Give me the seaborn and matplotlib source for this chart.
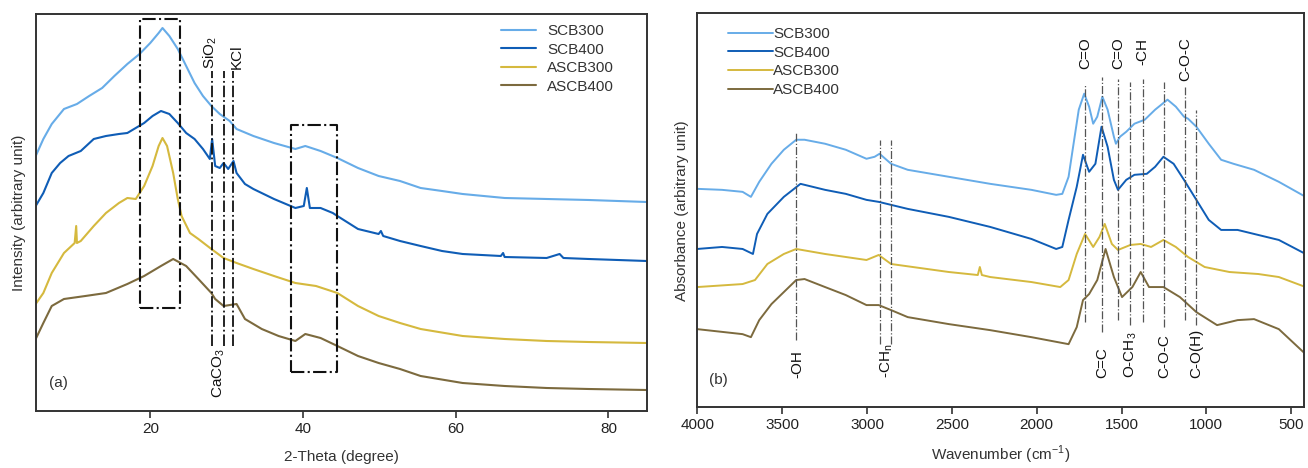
import matplotlib
matplotlib.use('Agg')
import matplotlib.pyplot as plt
import seaborn as sns
import pandas as pd

# ---- XRD data (a), intensity in arbitrary unit ----
scb300_theta = [5.0, 6.0, 7.1, 8.7, 10.4, 12.0, 13.7, 15.3, 17.0, 18.6, 20.0, 21.1, 21.6, 22.5, 23.6, 24.7,
                25.8, 26.9, 28.0, 29.1, 30.4, 31.3, 33.5, 36.2, 39.0, 40.3, 42.3, 44.5, 47.2, 49.9, 52.7,
                55.4, 58.2, 60.9, 66.4, 71.9, 77.4, 85.0]
scb300_int = [255, 272, 287, 302, 307, 315, 323, 335, 347, 357, 368, 378, 383, 375, 362, 345,
              328, 315, 305, 297, 290, 282, 275, 268, 262, 265, 260, 253, 243, 235, 230,
              223, 220, 217, 213, 212, 211, 209]

scb400_theta = [5.0, 6.0, 7.1, 8.2, 9.3, 10.9, 12.6, 14.2, 15.9, 17.0, 18.1, 19.2, 20.3, 21.4, 22.5, 23.6,
                24.7, 25.8, 26.9, 27.8, 28.1, 28.5, 29.1, 29.6, 30.2, 30.9, 31.3, 32.4, 33.5, 36.2, 39.0,
                40.1, 40.5, 40.9, 42.3, 43.9, 44.5, 47.2, 49.9, 50.2, 50.5, 52.7, 55.4, 58.2, 60.9, 65.9,
                66.2, 66.4, 71.9, 73.6, 74.1, 77.4, 85.0]
scb400_int = [205, 218, 238, 248, 255, 260, 272, 275, 277, 278, 283, 288, 295, 300, 297, 288,
              278, 272, 262, 252, 272, 245, 243, 248, 242, 250, 238, 227, 222, 212, 203,
              205, 223, 203, 203, 198, 195, 182, 177, 180, 175, 170, 165, 160, 157, 155,
              158, 154, 153, 157, 153, 152, 150]

ascb300_theta = [5.0, 6.0, 7.1, 8.7, 10.1, 10.3, 10.4, 10.9, 12.6, 14.2, 15.9, 17.0, 18.1, 19.2, 20.3, 21.1,
                 21.6, 22.2, 23.0, 23.6, 24.1, 25.2, 26.3, 28.0, 29.6, 31.3, 33.5, 36.2, 39.0, 41.7,
                 44.5, 47.2, 49.9, 52.7, 55.4, 60.9, 66.4, 71.9, 77.4, 85.0]
ascb300_int = [107, 118, 138, 158, 168, 185, 168, 170, 185, 198, 208, 213, 212, 225, 245, 265,
               273, 265, 238, 212, 195, 178, 172, 162, 153, 148, 142, 135, 128, 125,
               118, 105, 95, 88, 82, 75, 72, 70, 69, 68]

ascb400_theta = [5.0, 6.0, 7.1, 8.7, 11.5, 14.2, 17.0, 19.2, 21.4, 23.0, 24.7, 26.3, 28.0, 28.5, 29.6, 31.3,
                 32.4, 34.6, 36.8, 39.0, 40.3, 42.3, 44.5, 47.2, 49.9, 52.7, 55.4, 60.9, 66.4, 71.9,
                 77.4, 85.0]
ascb400_int = [72, 88, 105, 112, 115, 118, 127, 135, 145, 152, 145, 132, 118, 112, 105, 107,
               92, 82, 75, 70, 77, 73, 65, 55, 48, 42, 35, 28, 25, 23,
               22, 21]

# ---- FTIR data (b), absorbance in arbitrary unit ----
scb300_wn = [4000, 3854, 3733, 3684, 3635, 3563, 3490, 3417, 3368, 3247, 3125, 3003, 2955, 2926, 2858, 2760,
             2517, 2274, 2031, 1885, 1849, 1812, 1788, 1752, 1720, 1691, 1667, 1643, 1613, 1582, 1545,
             1533, 1509, 1472, 1424, 1363, 1302, 1229, 1180, 1132, 1108, 1059, 986, 913, 840, 719, 573, 415]
scb300_abs = [218, 217, 215, 210, 225, 243, 257, 267, 267, 263, 257, 248, 250, 253, 243, 237,
              230, 223, 217, 212, 213, 230, 257, 297, 313, 300, 283, 290, 310, 297, 270,
              263, 270, 275, 283, 287, 297, 307, 300, 290, 288, 280, 263, 247, 243, 237, 225, 210]

scb400_wn = [4000, 3854, 3733, 3672, 3648, 3587, 3490, 3392, 3247, 3125, 3003, 2931, 2760, 2517, 2274, 2031,
             1885, 1849, 1812, 1764, 1727, 1691, 1654, 1618, 1582, 1545, 1521, 1472, 1424, 1351, 1302,
             1253, 1193, 1132, 1059, 986, 913, 816, 719, 573, 415]
scb400_abs = [158, 160, 158, 153, 173, 193, 210, 223, 217, 213, 207, 205, 198, 190, 180, 168,
              158, 160, 187, 220, 252, 235, 243, 280, 260, 227, 217, 227, 232, 233, 240,
              250, 243, 227, 207, 187, 177, 177, 173, 167, 153]

ascb300_wn = [4000, 3733, 3660, 3587, 3490, 3417, 3247, 3003, 2931, 2858, 2517, 2347, 2335, 2323, 2274, 2031,
              1861, 1812, 1764, 1715, 1667, 1630, 1599, 1557, 1521, 1448, 1387, 1326, 1253, 1180, 1108,
              1010, 864, 694, 573, 415]
ascb300_abs = [120, 123, 127, 143, 153, 158, 153, 147, 152, 143, 135, 132, 140, 132, 130, 125,
               120, 127, 153, 173, 160, 170, 183, 163, 157, 162, 163, 160, 167, 160, 150,
               140, 135, 133, 130, 120]

ascb400_wn = [4000, 3733, 3684, 3635, 3563, 3490, 3417, 3368, 3247, 3125, 3003, 2931, 2858, 2760, 2517, 2274,
              2031, 1812, 1764, 1727, 1691, 1643, 1594, 1545, 1497, 1436, 1387, 1338, 1253, 1156, 1059,
              937, 816, 719, 573, 415]
ascb400_abs = [78, 73, 70, 87, 103, 115, 127, 128, 120, 112, 102, 102, 97, 90, 83, 77,
               70, 63, 80, 107, 113, 127, 158, 130, 110, 120, 135, 120, 120, 110, 95,
               82, 87, 88, 78, 53]

sample_names = ['SCB300', 'SCB400', 'ASCB300', 'ASCB400']
sample_colors = ['#67ACE8', '#0F5DB6', '#D5B93E', '#7C6A3E']

# annotation positions (a)
xrd_boxes = [(18.6, 23.9, 103, 392), (38.4, 44.5, 39, 286)]
xrd_lines = [28.1, 29.65, 30.85]
xrd_top_labels = [('SiO$_2$', 27.9), ('KCl', 31.3)]
xrd_bottom_labels = [('CaCO$_3$', 28.9)]

# annotation positions (b): (wavenumber, line top, line bottom)
ftir_lines = [(3417, 275, 67), (2923, 267, 63), (2858, 267, 63), (1715, 323, 85), (1613, 330, 75),
              (1521, 328, 87), (1448, 325, 82), (1375, 328, 85), (1249, 325, 80), (1127, 320, 87),
              (1059, 297, 82)]
ftir_top_labels = [('C=O', 1715), ('C=O', 1521), ('-CH', 1375), ('C-O-C', 1127)]
ftir_bottom_labels = [('-OH', 3410), ('-CH$_\\mathrm{n}$', 2885), ('C=C', 1613), ('O-CH$_3$', 1448),
                      ('C-O-C', 1249), ('C-O(H)', 1059)]

# long tables for seaborn
xrd_df = pd.concat([
    pd.DataFrame({'theta': scb300_theta, 'intensity': scb300_int, 'sample': 'SCB300'}),
    pd.DataFrame({'theta': scb400_theta, 'intensity': scb400_int, 'sample': 'SCB400'}),
    pd.DataFrame({'theta': ascb300_theta, 'intensity': ascb300_int, 'sample': 'ASCB300'}),
    pd.DataFrame({'theta': ascb400_theta, 'intensity': ascb400_int, 'sample': 'ASCB400'}),
], ignore_index=True)

ftir_df = pd.concat([
    pd.DataFrame({'wn': scb300_wn, 'abs': scb300_abs, 'sample': 'SCB300'}),
    pd.DataFrame({'wn': scb400_wn, 'abs': scb400_abs, 'sample': 'SCB400'}),
    pd.DataFrame({'wn': ascb300_wn, 'abs': ascb300_abs, 'sample': 'ASCB300'}),
    pd.DataFrame({'wn': ascb400_wn, 'abs': ascb400_abs, 'sample': 'ASCB400'}),
], ignore_index=True)

sns.set_style('white')
plt.rcParams['font.family'] = ['Liberation Sans', 'DejaVu Sans']
plt.rcParams['mathtext.fontset'] = 'custom'
plt.rcParams['mathtext.rm'] = 'Liberation Sans'
plt.rcParams['font.size'] = 11
txt_color = '#333333'

fig = plt.figure(figsize=(13.08, 4.68), dpi=100)
ax1 = fig.add_axes([0.0273, 0.1218, 0.4671, 0.8483])
ax2 = fig.add_axes([0.5331, 0.1297, 0.4638, 0.8415])

palette = dict(zip(sample_names, sample_colors))

# --- panel (a) XRD ---
sns.lineplot(data=xrd_df, x='theta', y='intensity', hue='sample', hue_order=sample_names,
             palette=palette, estimator=None, linewidth=1.5, ax=ax1)
ax1.set_xlim(5, 85)
ax1.set_ylim(0, 397)
ax1.set_xticks([20, 40, 60, 80])
ax1.set_yticks([])
ax1.set_xlabel('2-Theta (degree)', fontsize=11, color=txt_color, labelpad=10)
ax1.set_ylabel('Intensity (arbitrary unit)', fontsize=11, color=txt_color, labelpad=7)

for x0, x1, y0, y1 in xrd_boxes:
    ax1.plot([x0, x1, x1, x0, x0], [y0, y0, y1, y1, y0], color='#111111', lw=1.5, ls='-.')
for xv in xrd_lines:
    ax1.plot([xv, xv], [65, 340], color='#111111', lw=1.3, ls='-.')
for lab, xv in xrd_top_labels:
    ax1.text(xv, 342, lab, rotation=90, ha='center', va='bottom', fontsize=11, color='#111111')
for lab, xv in xrd_bottom_labels:
    ax1.text(xv, 63, lab, rotation=90, ha='center', va='top', fontsize=11, color='#111111')
ax1.text(8.0, 28, '(a)', fontsize=11, color=txt_color, ha='center', va='center')

h, l = ax1.get_legend_handles_labels()
ax1.legend(h, l, loc='upper left', bbox_to_anchor=(0.762, 0.975), frameon=False,
           handlelength=2.3, handletextpad=0.7, labelspacing=0.3, borderaxespad=0,
           borderpad=0, fontsize=11, labelcolor=txt_color)

# --- panel (b) FTIR ---
sns.lineplot(data=ftir_df, x='wn', y='abs', hue='sample', hue_order=sample_names,
             palette=palette, estimator=None, linewidth=1.4, ax=ax2)
ax2.set_xlim(4000, 425)
ax2.set_ylim(0, 393)
ax2.set_xticks([4000, 3500, 3000, 2500, 2000, 1500, 1000, 500])
ax2.set_yticks([])
ax2.set_xlabel('Wavenumber (cm$^{-1}$)', fontsize=11, color=txt_color, labelpad=8)
ax2.set_ylabel('Absorbance (arbitrary unit)', fontsize=11, color=txt_color, labelpad=6)

for wv, top, bot in ftir_lines:
    ax2.plot([wv, wv], [bot, top], color='#555555', lw=0.9, ls='-.')
for lab, wv in ftir_top_labels:
    ax2.text(wv, 369, lab, rotation=90, ha='center', va='top', fontsize=11, color='#111111')
for lab, wv in ftir_bottom_labels:
    ax2.text(wv, 29, lab, rotation=90, ha='center', va='bottom', fontsize=11, color='#111111')
ax2.text(3878, 27, '(b)', fontsize=11, color=txt_color, ha='center', va='center')

h, l = ax2.get_legend_handles_labels()
ax2.legend(h, l, loc='upper left', bbox_to_anchor=(0.05, 0.965), frameon=False,
           handlelength=3.0, handletextpad=0.0, labelspacing=0.3, borderaxespad=0,
           borderpad=0, fontsize=11, labelcolor=txt_color)

for ax in (ax1, ax2):
    for sp in ax.spines.values():
        sp.set_color('#333333')
        sp.set_linewidth(1.4)
    ax.tick_params(axis='x', bottom=True, direction='out', length=5, width=1.2,
                   color='#333333', labelsize=11, labelcolor='#222222', pad=3)

fig.savefig('out.png', dpi=100)
